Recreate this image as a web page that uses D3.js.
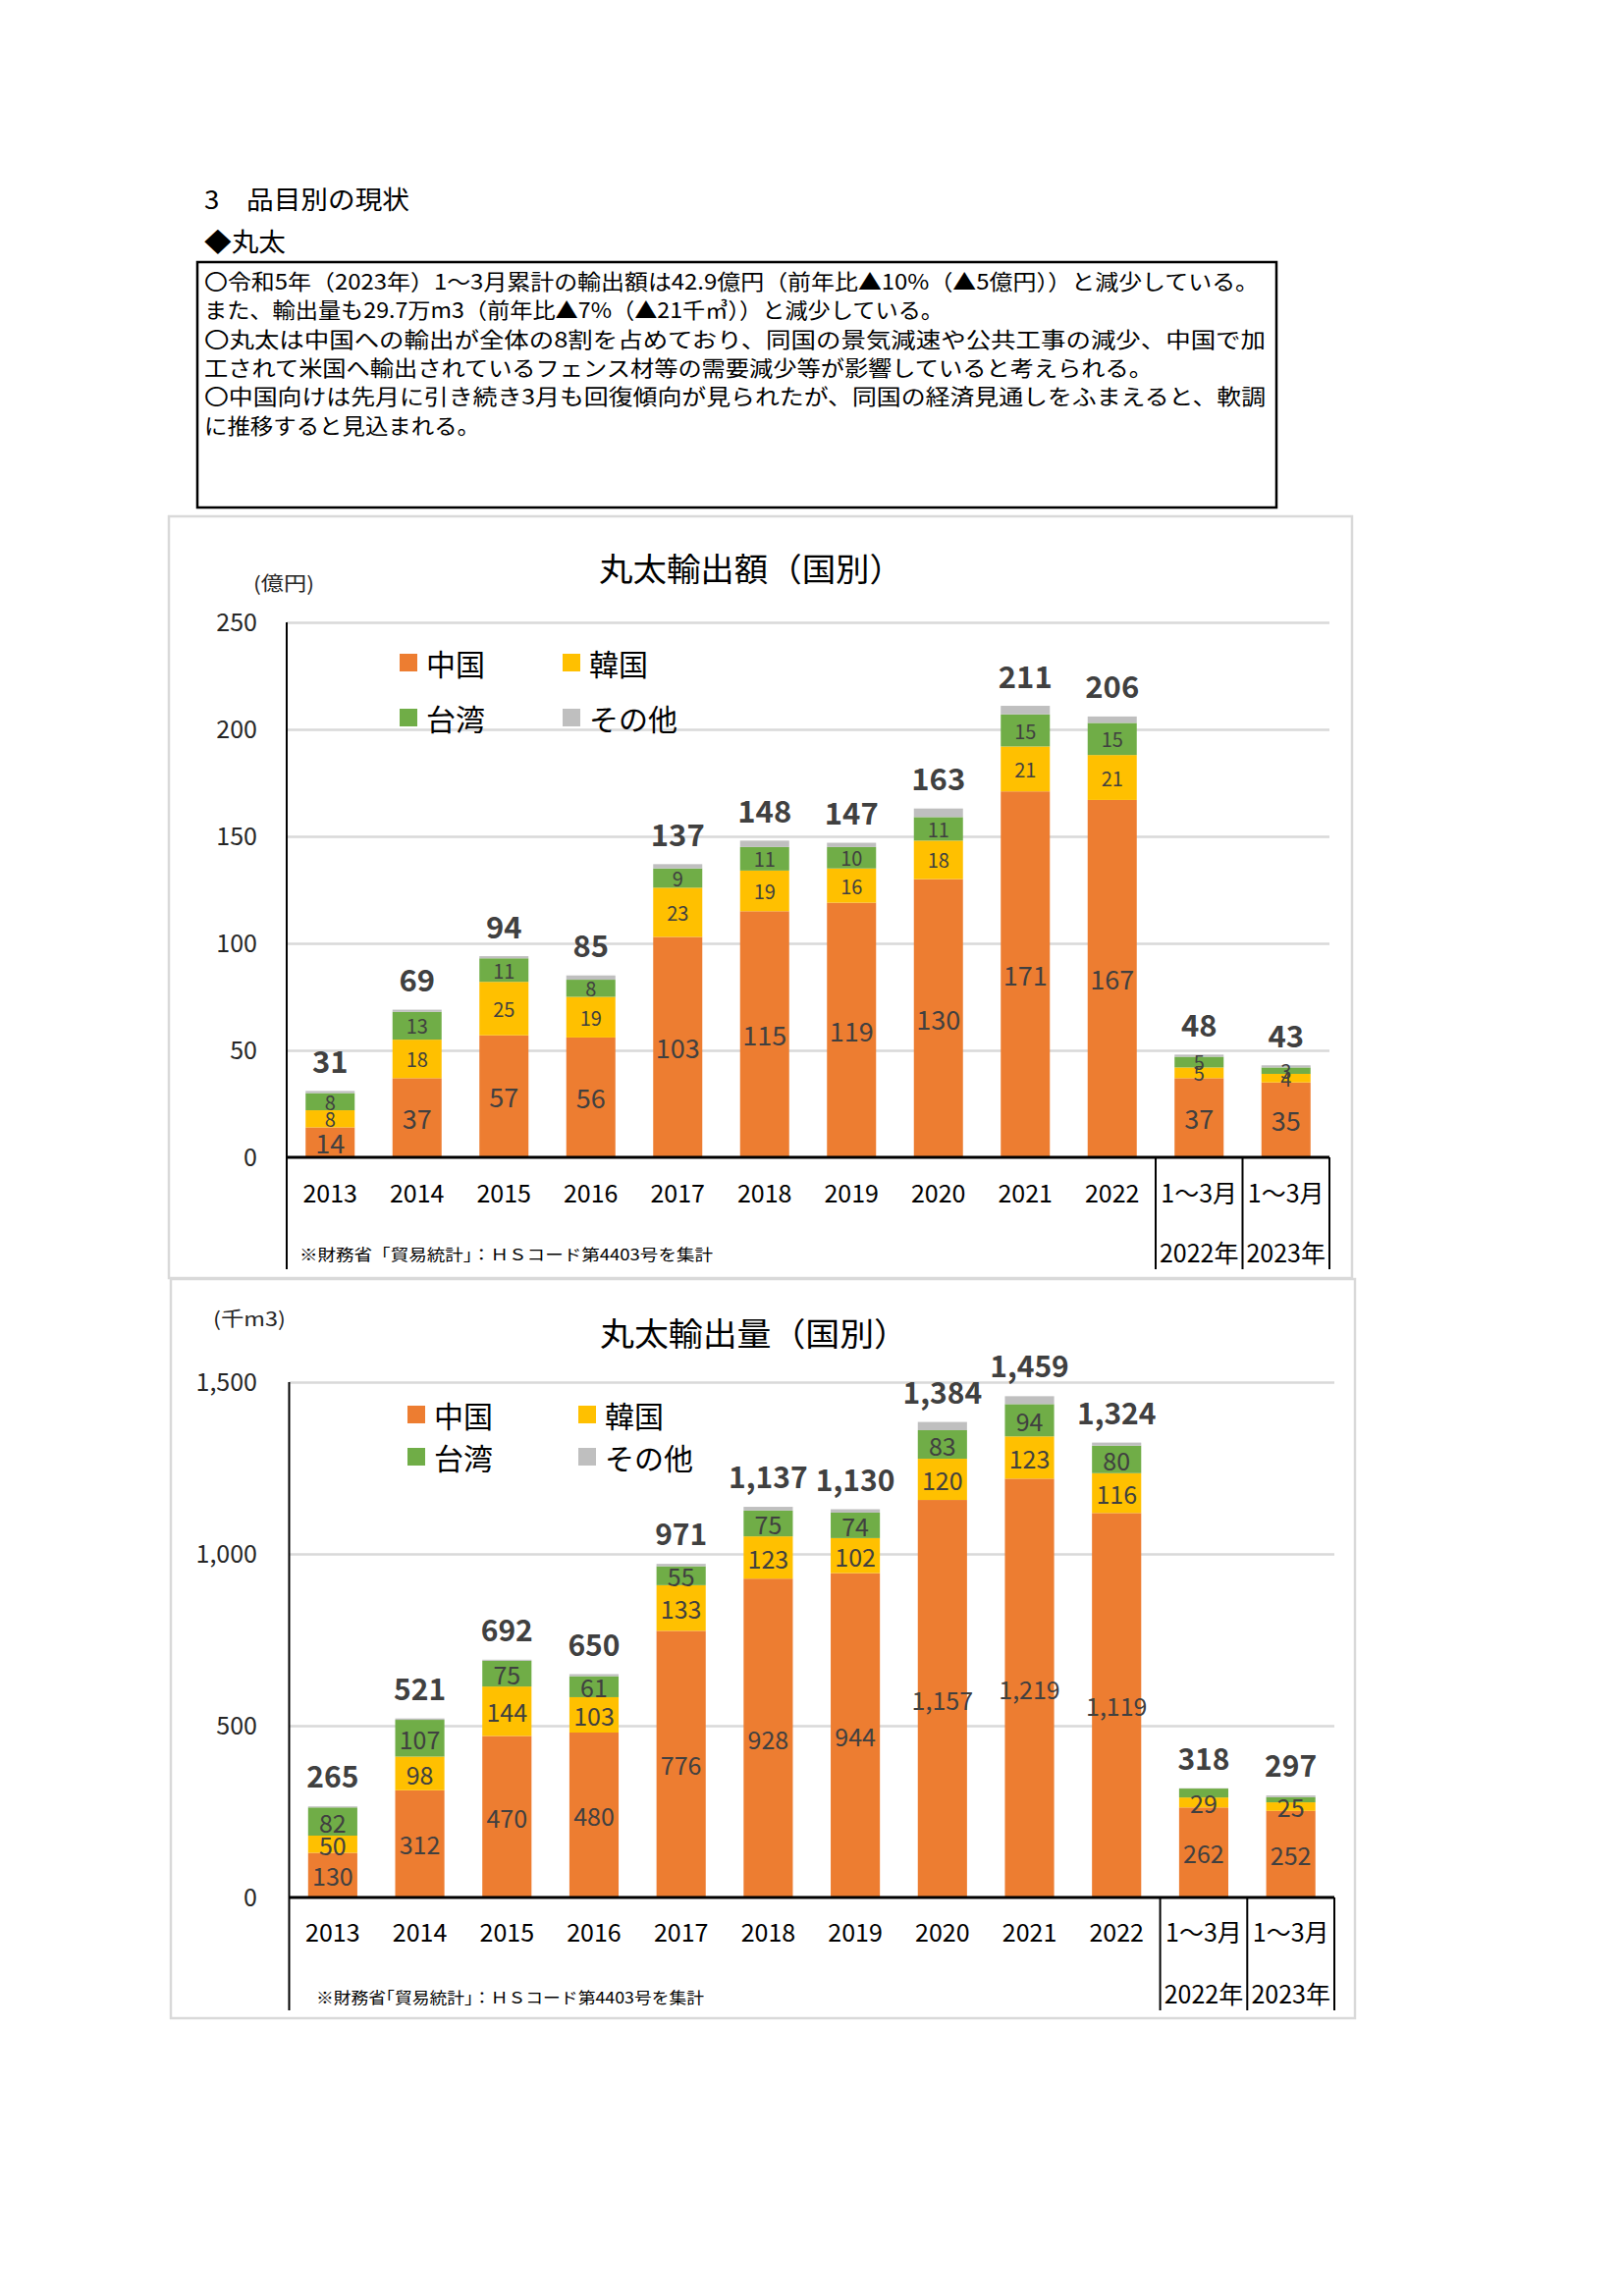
<!DOCTYPE html>
<html><head><meta charset="utf-8">
<script src="https://cdn.jsdelivr.net/npm/d3@7"></script>
<style>
html,body{margin:0;padding:0;background:#fff;}
svg text{font-family:"Noto Sans CJK JP","Noto Sans",sans-serif;}
</style></head>
<body>
<svg id="page" width="1654" height="2339"></svg>
<script>
// ---------- DATA ----------
const categories = ["2013","2014","2015","2016","2017","2018","2019","2020","2021","2022","1～3月|2022年","1～3月|2023年"];
const seriesNames = ["中国","韓国","台湾","その他"];
const seriesColors = ["#ED7D31","#FFC000","#70AD47","#BFBFBF"];

// 丸太輸出額（億円）
const valueChina  = [14, 37, 57, 56, 103, 115, 119, 130, 171, 167, 37, 35];
const valueKorea  = [8, 18, 25, 19, 23, 19, 16, 18, 21, 21, 5, 4];
const valueTaiwan = [8, 13, 11, 8, 9, 11, 10, 11, 15, 15, 5, 3];
const valueOther  = [1, 1, 1, 2, 2, 3, 2, 4, 4, 3, 1, 1];
const valueTotal  = [31, 69, 94, 85, 137, 148, 147, 163, 211, 206, 48, 43];
const valueTicks  = [0, 50, 100, 150, 200, 250];

// 丸太輸出量（千m3）
const volumeChina  = [130, 312, 470, 480, 776, 928, 944, 1157, 1219, 1119, 262, 252];
const volumeKorea  = [50, 98, 144, 103, 133, 123, 102, 120, 123, 116, 29, 25];
const volumeTaiwan = [82, 107, 75, 61, 55, 75, 74, 83, 94, 80, 26, 15];
const volumeOther  = [3, 4, 3, 6, 7, 11, 10, 24, 23, 9, 1, 5];
const volumeTotal  = [265, 521, 692, 650, 971, 1137, 1130, 1384, 1459, 1324, 318, 297];
const volumeTicks  = [0, 500, 1000, 1500];
const volumeHiddenTaiwanLabels = ["1～3月|2022年","1～3月|2023年"];

const headerLines = ["3　品目別の現状", "◆丸太"];
const textLines = [
  "〇令和5年（2023年）1～3月累計の輸出額は42.9億円（前年比▲10%（▲5億円））と減少している。",
  "また、輸出量も29.7万m3（前年比▲7%（▲21千㎥））と減少している。",
  "〇丸太は中国への輸出が全体の8割を占めており、同国の景気減速や公共工事の減少、中国で加",
  "工されて米国へ輸出されているフェンス材等の需要減少等が影響していると考えられる。",
  "〇中国向けは先月に引き続き3月も回復傾向が見られたが、同国の経済見通しをふまえると、軟調",
  "に推移すると見込まれる。"
];

// ---------- PAGE ----------
const svg = d3.select("#page");
svg.append("rect").attr("width",1654).attr("height",2339).attr("fill","#fff");

// headers
const headerY = [201, 244], headerW = [209, 83];
headerLines.forEach((t,i)=>{
  svg.append("text").attr("x",208).attr("y",headerY[i]).attr("dominant-baseline","central")
    .attr("font-size",26).attr("fill","#000").attr("textLength",headerW[i]).attr("lengthAdjust","spacingAndGlyphs").text(t);
});

// text box
svg.append("rect").attr("x",201).attr("y",267).attr("width",1099).attr("height",250)
  .attr("fill","none").attr("stroke","#000").attr("stroke-width",2.5);
const lineW = [1074, 753, 1081, 966, 1081, 281];
textLines.forEach((t,i)=>{
  svg.append("text").attr("x",208).attr("y",285 + i*29.3).attr("dominant-baseline","central")
    .attr("font-size",22).attr("fill","#000").attr("textLength",lineW[i]).attr("lengthAdjust","spacingAndGlyphs").text(t);
});

function drawChart(cfg){
  const g = svg.append("g");
  // frame
  g.append("rect").attr("x",cfg.frame[0]).attr("y",cfg.frame[1]).attr("width",cfg.frame[2]).attr("height",cfg.frame[3])
    .attr("fill","#fff").attr("stroke","#D9D9D9").attr("stroke-width",2.5);

  const x = d3.scaleBand().domain(categories).range([cfg.left, cfg.right]).paddingInner(0.435).paddingOuter(0.2175);
  const y = d3.scaleLinear().domain([0, d3.max(cfg.ticks)]).range([cfg.y0, cfg.yTop]);

  // gridlines via axis
  const grid = g.append("g").attr("transform",`translate(${cfg.left},0)`)
    .call(d3.axisLeft(y).tickValues(cfg.ticks.filter(v=>v>0)).tickSize(-(cfg.right-cfg.left)).tickFormat(""));
  grid.select(".domain").remove();
  grid.selectAll(".tick line").attr("stroke","#D9D9D9").attr("stroke-width",2.5);

  // tick labels via axis
  const ax = g.append("g").attr("transform",`translate(${cfg.tickRight},0)`)
    .call(d3.axisLeft(y).tickValues(cfg.ticks).tickSize(0).tickPadding(0).tickFormat(d3.format(",")));
  ax.select(".domain").remove();
  ax.selectAll("text").attr("font-size",25).attr("fill","#262626")
    .style("font-family",'"Noto Sans CJK JP",sans-serif');

  // stacked data
  const rows = categories.map((c,i)=>({cat:c, "中国":cfg.series[0][i], "韓国":cfg.series[1][i], "台湾":cfg.series[2][i], "その他":cfg.series[3][i]}));
  const stacked = d3.stack().keys(seriesNames)(rows);

  stacked.forEach((layer,li)=>{
    g.append("g").selectAll("rect").data(layer).join("rect")
      .attr("x",d=>x(d.data.cat)).attr("width",x.bandwidth())
      .attr("y",d=>y(d[1])).attr("height",d=>y(d[0])-y(d[1]))
      .attr("fill",seriesColors[li]);
  });
  // segment labels
  stacked.forEach((layer,li)=>{
    if(li===3) return;
    g.append("g").selectAll("text").data(layer.filter(d=>!(li===2 && cfg.hiddenTaiwan.includes(d.data.cat)))).join("text")
      .attr("x",d=>x(d.data.cat)+x.bandwidth()/2)
      .attr("y",d=>(y(d[0])+y(d[1]))/2)
      .attr("text-anchor","middle").attr("dominant-baseline","central")
      .attr("font-size", li===0 ? cfg.chinaFont : cfg.segFont)
      .attr("fill","#404040")
      .text(d=>d3.format(",")(d[1]-d[0]));
  });
  // totals
  g.append("g").selectAll("text").data(categories).join("text")
    .attr("x",c=>x(c)+x.bandwidth()/2)
    .attr("y",(c,i)=>y(cfg.totals[i]) - 32)
    .attr("text-anchor","middle").attr("dominant-baseline","central")
    .attr("font-size",cfg.totalFont).attr("font-weight","bold").attr("fill","#404040")
    .text((c,i)=>d3.format(",")(cfg.totals[i]));

  // axes lines
  g.append("line").attr("x1",cfg.left).attr("x2",cfg.left).attr("y1",cfg.yTop).attr("y2",cfg.axisBottom)
    .attr("stroke","#000").attr("stroke-width",2);
  g.append("line").attr("x1",cfg.left).attr("x2",cfg.right).attr("y1",cfg.y0).attr("y2",cfg.y0)
    .attr("stroke","#000").attr("stroke-width",3);
  // separators for Q1 categories
  const step = x.step();
  [10,11,12].forEach(k=>{
    const xx = cfg.left + k*step;
    g.append("line").attr("x1",xx).attr("x2",xx).attr("y1",cfg.y0).attr("y2",cfg.axisBottom)
      .attr("stroke","#000").attr("stroke-width",2);
  });
  // category labels
  categories.forEach(c=>{
    const parts = c.split("|");
    const cx = x(c)+x.bandwidth()/2;
    g.append("text").attr("x",cx).attr("y",cfg.cat1).attr("text-anchor","middle").attr("dominant-baseline","central")
      .attr("font-size",25).attr("fill","#000").text(parts[0]);
    if(parts[1]){
      g.append("text").attr("x",cx).attr("y",cfg.cat2).attr("text-anchor","middle").attr("dominant-baseline","central")
        .attr("font-size",25).attr("fill","#000").text(parts[1]);
    }
  });
  // note
  g.append("text").attr("x",cfg.note[0]).attr("y",cfg.note[1]).attr("dominant-baseline","central")
    .attr("font-size",16).attr("fill","#000").attr("textLength",cfg.note[2]).attr("lengthAdjust","spacingAndGlyphs").text(cfg.noteText);
  // title
  g.append("text").attr("x",cfg.title[0]).attr("y",cfg.title[1]).attr("text-anchor","middle").attr("dominant-baseline","central")
    .attr("font-size",33).attr("fill","#000").attr("textLength",cfg.title[2]).attr("lengthAdjust","spacingAndGlyphs").text(cfg.titleText);
  // unit
  g.append("text").attr("x",cfg.unit[0]).attr("y",cfg.unit[1]).attr("text-anchor","middle").attr("dominant-baseline","central")
    .attr("font-size",20).attr("fill","#262626").attr("textLength",cfg.unit[2]).attr("lengthAdjust","spacingAndGlyphs").text(cfg.unitText);
  // legend
  seriesNames.forEach((n,i)=>{
    const lx = cfg.legX[i%2], ly = cfg.legY[Math.floor(i/2)];
    g.append("rect").attr("x",lx).attr("y",ly-9).attr("width",18).attr("height",18).attr("fill",seriesColors[i]);
    g.append("text").attr("x",lx+27).attr("y",ly).attr("dominant-baseline","central")
      .attr("font-size",30).attr("fill","#000").text(n);
  });
}

drawChart({
  frame:[172,526,1205,776], left:292, right:1354, yTop:634, y0:1179, axisBottom:1293,
  ticks:valueTicks, tickRight:262, series:[valueChina,valueKorea,valueTaiwan,valueOther], totals:valueTotal,
  hiddenTaiwan:[], chinaFont:27, segFont:20, totalFont:31,
  cat1:1214, cat2:1275, note:[305,1277,421], noteText:"※財務省「貿易統計」：ＨＳコード第4403号を集計",
  title:[765,578,310], titleText:"丸太輸出額（国別）", unit:[289,593,62], unitText:"(億円)",
  legX:[407,573], legY:[675,731]
});
drawChart({
  frame:[174,1303,1206,753], left:294.5, right:1359, yTop:1408, y0:1933, axisBottom:2048,
  ticks:volumeTicks, tickRight:262, series:[volumeChina,volumeKorea,volumeTaiwan,volumeOther], totals:volumeTotal,
  hiddenTaiwan:volumeHiddenTaiwanLabels, chinaFont:25, segFont:25, totalFont:30,
  cat1:1967, cat2:2030, note:[322,2034,395], noteText:"※財務省｢貿易統計｣：ＨＳコード第4403号を集計",
  title:[768,1357,314], titleText:"丸太輸出量（国別）", unit:[254,1342,74], unitText:"(千m3)",
  legX:[415,589], legY:[1441,1484]
});
</script>
</body></html>
